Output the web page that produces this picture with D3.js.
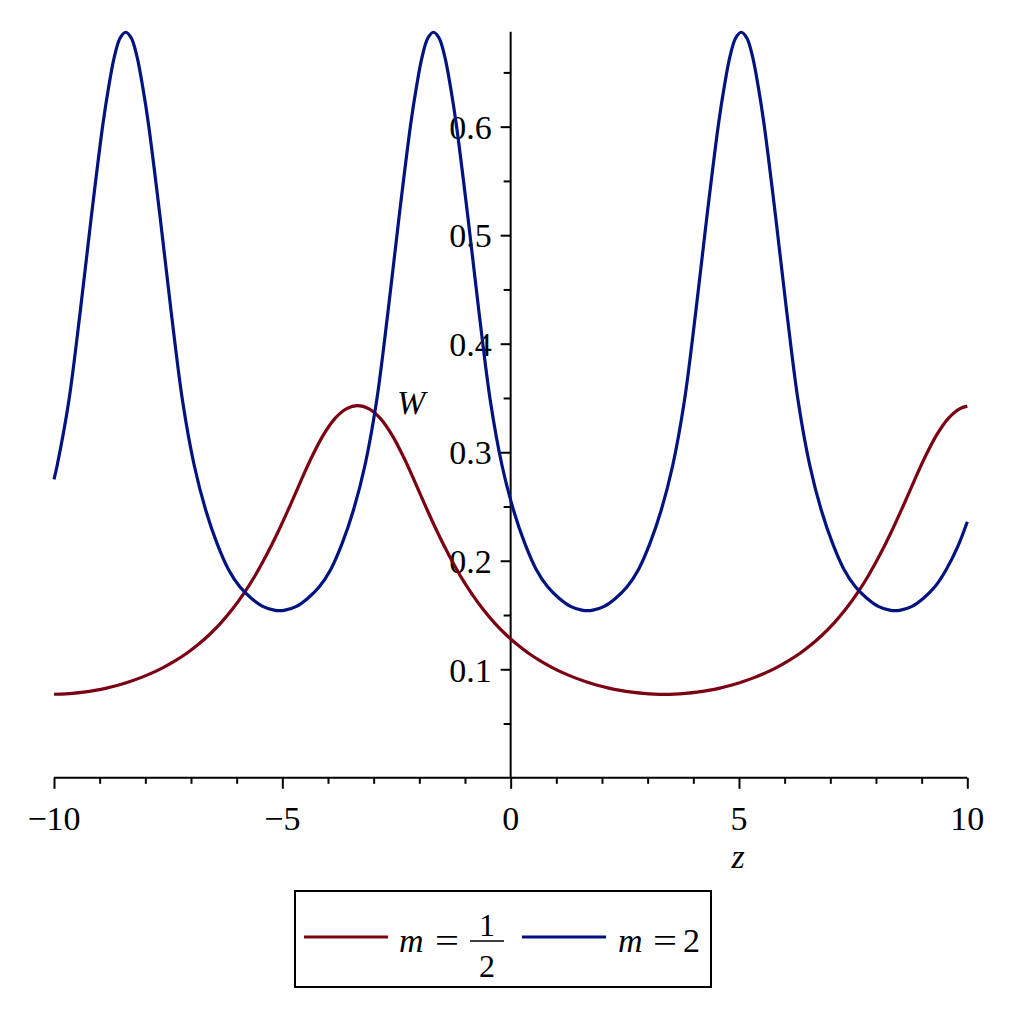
<!DOCTYPE html>
<html lang="en">
<head>
   <meta charset="utf-8">
   <title>W against z for m = 1/2 and m = 2</title>
   <script src="https://cdn.jsdelivr.net/npm/d3@7"></script>
   <style type="text/css">
      body { margin: 0; background: #fff; }
      text { font-family: "Liberation Serif", "Times New Roman", serif; fill: #000; }
   </style>
</head>
<body>
   <script type="text/javascript">

      var w = 1018;
      var h = 1018;

      // m = 1/2 : sample points (z, W)
      var redZ = [
         -10, -9.85, -9.6, -9.35, -9.1, -8.85, -8.6, -8.35, -8.1, -7.85,
         -7.6, -7.35, -7.1, -6.85, -6.6, -6.35, -6.1, -5.85, -5.6, -5.35,
         -5.1, -4.85, -4.6, -4.35, -4.1, -3.85, -3.6, -3.35, -3.1, -2.85,
         -2.6, -2.35, -2.1, -1.85, -1.6, -1.35, -1.1, -0.85, -0.6, -0.35,
         -0.1, 0.15, 0.4, 0.65, 0.9, 1.15, 1.4, 1.65, 1.9, 2.15,
         2.4, 2.65, 2.9, 3.15, 3.4, 3.58, 3.83, 4.08, 4.33, 4.58,
         4.83, 5.08, 5.33, 5.58, 5.83, 6.08, 6.33, 6.58, 6.83, 7.08,
         7.33, 7.58, 7.83, 8.08, 8.33, 8.58, 8.83, 9.08, 9.33, 9.58,
         9.83, 10
      ];
      var redW = [
         0.0770, 0.0771, 0.0778, 0.0789, 0.0805, 0.0826, 0.0853, 0.0885, 0.0923, 0.0967,
         0.1018, 0.1077, 0.1145, 0.1225, 0.1318, 0.1425, 0.155, 0.1695, 0.186, 0.205,
         0.226, 0.249, 0.273, 0.296, 0.316, 0.331, 0.340, 0.343, 0.340, 0.331,
         0.316, 0.296, 0.273, 0.249, 0.226, 0.205, 0.186, 0.1695, 0.155, 0.1425,
         0.1318, 0.1225, 0.1145, 0.1077, 0.1018, 0.0967, 0.0923, 0.0885, 0.0853, 0.0826,
         0.0805, 0.0789, 0.0778, 0.0771, 0.0769, 0.0771, 0.0778, 0.0789, 0.0805, 0.0826,
         0.0853, 0.0885, 0.0923, 0.0967, 0.1018, 0.1077, 0.1145, 0.1225, 0.1318, 0.1425,
         0.155, 0.1695, 0.186, 0.205, 0.226, 0.249, 0.273, 0.296, 0.316, 0.331,
         0.340, 0.3425
      ];

      // m = 2 : sample points (z, W)
      var blueZ = [
         -10, -9.93, -9.68, -9.43, -9.18, -8.93, -8.805, -8.68, -8.555, -8.43,
         -8.305, -8.18, -8.055, -7.93, -7.68, -7.43, -7.18, -6.93, -6.68, -6.43,
         -6.18, -5.93, -5.68, -5.43, -5.18, -5.06, -4.94, -4.69, -4.44, -4.19,
         -3.94, -3.69, -3.44, -3.19, -2.94, -2.69, -2.44, -2.19, -2.065, -1.94,
         -1.815, -1.69, -1.565, -1.44, -1.315, -1.19, -0.94, -0.69, -0.44, -0.19,
         0.06, 0.31, 0.56, 0.81, 1.06, 1.31, 1.56, 1.68, 1.80, 2.05,
         2.30, 2.55, 2.80, 3.05, 3.30, 3.55, 3.80, 4.05, 4.30, 4.55,
         4.675, 4.80, 4.925, 5.05, 5.175, 5.30, 5.425, 5.55, 5.80, 6.05,
         6.30, 6.55, 6.80, 7.05, 7.30, 7.55, 7.80, 8.05, 8.30, 8.42,
         8.54, 8.79, 9.04, 9.29, 9.54, 9.79, 10
      ];
      var blueW = [
         0.275, 0.288, 0.346, 0.428, 0.518, 0.602, 0.636, 0.664, 0.6815, 0.687,
         0.6815, 0.664, 0.636, 0.602, 0.518, 0.428, 0.346, 0.288, 0.247, 0.216,
         0.192, 0.176, 0.1655, 0.158, 0.1545, 0.154, 0.1545, 0.158, 0.1655, 0.176,
         0.192, 0.216, 0.247, 0.288, 0.346, 0.428, 0.518, 0.602, 0.636, 0.664,
         0.6815, 0.687, 0.6815, 0.664, 0.636, 0.602, 0.518, 0.428, 0.346, 0.288,
         0.247, 0.216, 0.192, 0.176, 0.1655, 0.158, 0.1545, 0.154, 0.1545, 0.158,
         0.1655, 0.176, 0.192, 0.216, 0.247, 0.288, 0.346, 0.428, 0.518, 0.602,
         0.636, 0.664, 0.6815, 0.687, 0.6815, 0.664, 0.636, 0.602, 0.518, 0.428,
         0.346, 0.288, 0.247, 0.216, 0.192, 0.176, 0.1655, 0.158, 0.1545, 0.154,
         0.1545, 0.158, 0.1655, 0.176, 0.192, 0.213, 0.236
      ];

      var xMajorTicks = [-10, -5, 0, 5, 10];
      var xMajorLabels = ["\u221210", "\u22125", "0", "5", "10"];
      var xMinorTicks = [-9, -8, -7, -6, -4, -3, -2, -1, 1, 2, 3, 4, 6, 7, 8, 9];
      var yMajorTicks = [0.1, 0.2, 0.3, 0.4, 0.5, 0.6];
      var yMajorLabels = ["0.1", "0.2", "0.3", "0.4", "0.5", "0.6"];
      var yMinorTicks = [0.05, 0.15, 0.25, 0.35, 0.45, 0.55, 0.65];

      var seriesColors = ["#7a0012", "#00137f"];

      var xScale = d3.scaleLinear()
                     .domain([-10, 10])
                     .range([54, 967.3]);

      var yScale = d3.scaleLinear()
                     .domain([0, 0.6875])
                     .range([777.8, 31.7]);

      var svg = d3.select("body")
                  .append("svg")
                  .attr("width", w)
                  .attr("height", h);

      var x0 = xScale(0);
      var y0 = yScale(0);

      // x axis, major and minor ticks
      svg.append("g")
         .attr("transform", "translate(0," + y0 + ")")
         .call(d3.axisBottom(xScale).tickValues(xMajorTicks).tickSize(11).tickFormat(""))
         .call(function(g) {
            g.select(".domain").attr("stroke-width", 2).attr("d", "M" + xScale(-10) + ",0H" + xScale(10));
            g.selectAll(".tick line").attr("stroke-width", 2);
         });
      svg.append("g")
         .attr("transform", "translate(0," + y0 + ")")
         .call(d3.axisBottom(xScale).tickValues(xMinorTicks).tickSize(6).tickFormat(""))
         .call(function(g) {
            g.select(".domain").remove();
            g.selectAll(".tick line").attr("stroke-width", 2);
         });

      svg.selectAll("text.xlab")
         .data(xMajorTicks)
         .enter()
         .append("text")
         .attr("class", "xlab")
         .attr("x", function(d) { return xScale(d); })
         .attr("y", 830)
         .attr("text-anchor", "middle")
         .attr("font-size", "34px")
         .text(function(d, i) { return xMajorLabels[i]; });

      // y axis sits at z = 0
      svg.append("g")
         .attr("transform", "translate(" + x0 + ",0)")
         .call(d3.axisLeft(yScale).tickValues(yMajorTicks).tickSize(10).tickFormat(""))
         .call(function(g) {
            g.select(".domain").attr("stroke-width", 2).attr("d", "M0," + y0 + "V" + yScale(0.6875));
            g.selectAll(".tick line").attr("stroke-width", 2);
         });
      svg.append("g")
         .attr("transform", "translate(" + x0 + ",0)")
         .call(d3.axisLeft(yScale).tickValues(yMinorTicks).tickSize(7).tickFormat(""))
         .call(function(g) {
            g.select(".domain").remove();
            g.selectAll(".tick line").attr("stroke-width", 2);
         });

      svg.selectAll("text.ylab")
         .data(yMajorTicks)
         .enter()
         .append("text")
         .attr("class", "ylab")
         .attr("x", x0 - 19)
         .attr("y", function(d) { return yScale(d); })
         .attr("dy", "0.36em")
         .attr("text-anchor", "end")
         .attr("font-size", "34px")
         .text(function(d, i) { return yMajorLabels[i]; });

      // axis names
      svg.append("text")
         .attr("x", 738)
         .attr("y", 868)
         .attr("text-anchor", "middle")
         .attr("font-size", "34px")
         .attr("font-style", "italic")
         .text("z");

      svg.append("text")
         .attr("x", 397)
         .attr("y", 414)
         .attr("font-size", "34px")
         .attr("font-style", "italic")
         .text("W");

      // curves
      var line = d3.line()
                   .x(function(d) { return xScale(d[0]); })
                   .y(function(d) { return yScale(d[1]); })
                   .curve(d3.curveCatmullRom.alpha(0.5));

      var series = [[redZ, redW], [blueZ, blueW]];
      series.forEach(function(s, k) {
         svg.append("path")
            .datum(s[0].map(function(z, i) { return [z, s[1][i]]; }))
            .attr("fill", "none")
            .attr("stroke", seriesColors[k])
            .attr("stroke-width", 3.2)
            .attr("stroke-linejoin", "round")
            .attr("d", line);
      });

      // legend
      var legend = svg.append("g");
      legend.append("rect")
            .attr("x", 295)
            .attr("y", 891)
            .attr("width", 416)
            .attr("height", 96)
            .attr("fill", "none")
            .attr("stroke", "#000")
            .attr("stroke-width", 2);

      legend.append("line")
            .attr("x1", 304).attr("x2", 388)
            .attr("y1", 937).attr("y2", 937)
            .attr("stroke", seriesColors[0])
            .attr("stroke-width", 3);

      legend.append("text")
            .attr("x", 399).attr("y", 952)
            .attr("font-size", "34px")
            .attr("font-style", "italic")
            .text("m");
      legend.append("text")
            .attr("x", 435).attr("y", 952)
            .attr("font-size", "34px")
            .attr("textLength", 24)
            .attr("lengthAdjust", "spacingAndGlyphs")
            .text("=");

      legend.append("text")
            .attr("x", 487).attr("y", 936)
            .attr("text-anchor", "middle")
            .attr("font-size", "32px")
            .text("1");
      legend.append("line")
            .attr("x1", 470).attr("x2", 504)
            .attr("y1", 941).attr("y2", 941)
            .attr("stroke", "#000")
            .attr("stroke-width", 1.5);
      legend.append("text")
            .attr("x", 487).attr("y", 977)
            .attr("text-anchor", "middle")
            .attr("font-size", "32px")
            .text("2");

      legend.append("line")
            .attr("x1", 522).attr("x2", 606)
            .attr("y1", 937).attr("y2", 937)
            .attr("stroke", seriesColors[1])
            .attr("stroke-width", 3);

      legend.append("text")
            .attr("x", 618).attr("y", 952)
            .attr("font-size", "34px")
            .attr("font-style", "italic")
            .text("m");
      legend.append("text")
            .attr("x", 653).attr("y", 952)
            .attr("font-size", "34px")
            .attr("textLength", 24)
            .attr("lengthAdjust", "spacingAndGlyphs")
            .text("=");
      legend.append("text")
            .attr("x", 683).attr("y", 952)
            .attr("font-size", "34px")
            .text("2");

   </script>
</body>
</html>
